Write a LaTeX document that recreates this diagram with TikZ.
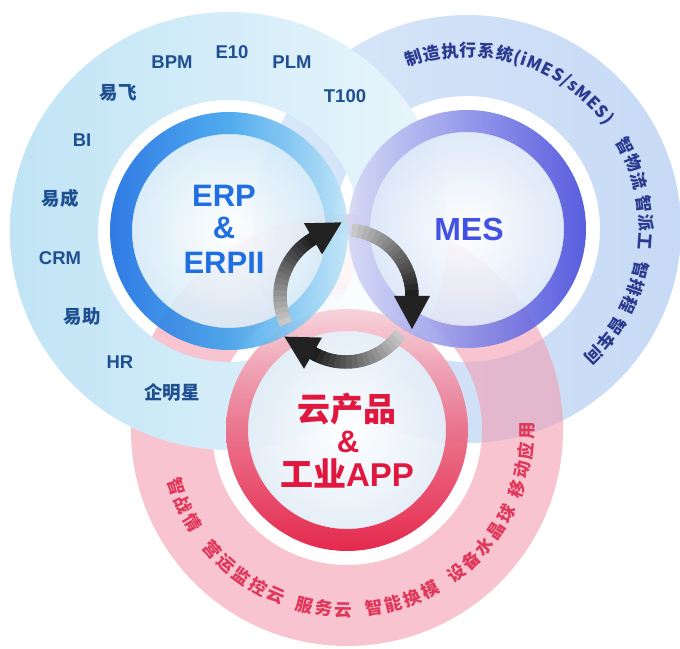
\documentclass[tikz,border=0pt]{standalone}
\usepackage{fontspec}
\setmainfont{Liberation Sans}
\newfontfamily\cjk{Noto Sans CJK SC}
\usetikzlibrary{calc,decorations.text}
\definecolor{erpannL}{HTML}{C0E4F5}
\definecolor{erpannR}{HTML}{EAF6FC}
\definecolor{mesannL}{HTML}{D9E8FA}
\definecolor{mesannR}{HTML}{C7DAF5}
\definecolor{cloudann}{HTML}{F29DB1}
\definecolor{erpringL}{HTML}{1A6DE2}
\definecolor{erpringM}{HTML}{3EA3EC}
\definecolor{erpringR}{HTML}{BDE5F7}
\definecolor{mesringL}{HTML}{D3D7F5}
\definecolor{mesringM}{HTML}{8A8FE8}
\definecolor{mesringR}{HTML}{474CDB}
\definecolor{cloudringT}{HTML}{F7D0D9}
\definecolor{cloudringM}{HTML}{EC6A84}
\definecolor{cloudringB}{HTML}{E2183F}
\definecolor{erpinO}{HTML}{D6EBF8}
\definecolor{mesinO}{HTML}{DCE7F8}
\definecolor{cloudinO}{HTML}{E3EDF7}
\definecolor{labblue}{HTML}{1E4F91}
\definecolor{erptext}{HTML}{1F6FE0}
\definecolor{mestext}{HTML}{4252E2}
\definecolor{cloudtext}{HTML}{E0173F}
\definecolor{mesarc}{HTML}{2A3A8E}
\definecolor{cloudarc}{HTML}{E0375A}
\definecolor{headcol}{HTML}{222222}
\newcommand\labfont{\bfseries\fontsize{18.5}{20}\selectfont}
\newcommand\labcnfont{\cjk\bfseries\fontsize{18.5}{20}\selectfont}
\newcommand\mesarcfont{\cjk\bfseries\fontsize{17}{17}\selectfont}
\newcommand\cloudarcfont{\cjk\bfseries\fontsize{17.5}{17.5}\selectfont}
\newcommand\cyclearrow[1]{%
  \foreach \ii in {0,...,16}{%
    \pgfmathsetmacro\sa{#1+85-5*\ii}%
    \pgfmathsetmacro\ea{\sa-5.6}%
    \pgfmathsetmacro\sh{22+66*\ii/16}%
    \draw[line width=13.5pt, draw=black!\sh] ($(A)+(\sa:66)$) arc[start angle=\sa, end angle=\ea, radius=66];
  }%
  \fill[headcol] ($(A)+(#1:84)$) -- ($(A)+(#1:48)$) -- ($(A)+(#1:66)+(#1-90:33)$) -- cycle;
}
\newcommand\mesgroup[3]{%
  \path[decorate, decoration={text along path, text={|\mesarcfont|#3}, text align={fit to path}, text color=mesarc}]
    ($(M)+(#1:172.5)$) arc[start angle=#1, end angle=#2, radius=172.5];}
\newcommand\cloudgroup[3]{%
  \path[decorate, decoration={text along path, text={|\cloudarcfont|#3}, text align={fit to path}, text color=cloudarc}]
    ($(C)+(#1:186.6)$) arc[start angle=#1, end angle=#2, radius=186.6];}
\begin{document}
\begin{tikzpicture}[x=1pt,y=1pt,
  lab/.style={font=\labfont, text=labblue, inner sep=0pt},
  labcn/.style={font=\labcnfont, text=labblue, inner sep=0pt},
  big/.style={font=\bfseries\fontsize{31}{33}\selectfont, inner sep=0pt},
  bigcn/.style={font=\cjk\bfseries\fontsize{33}{35}\selectfont, inner sep=0pt}]
\useasboundingbox (0,0) rectangle (680,648);
\fill[white] (0,0) rectangle (680,648);
\coordinate (E) at (229,417);
\coordinate (M) at (467,419);
\coordinate (C) at (347,218);
\coordinate (A) at (346,352);
% outer annuli
\shade[even odd rule, left color=mesannL, right color=mesannR] (M) circle[radius=214] (M) circle[radius=133];
\fill[even odd rule, cloudann, fill opacity=0.6] (C) circle[radius=216] (C) circle[radius=135];
\shade[even odd rule, left color=erpannL, right color=erpannR] (E) circle[radius=219] (E) circle[radius=131];
% light centre where the three white bands meet
\fill[white, opacity=0.85] (A) circle[radius=62];
% inner discs
\shade[inner color=white, outer color=erpinO, opacity=0.9] (E) circle[radius=97];
\shade[inner color=white, outer color=mesinO, opacity=0.9] (M) circle[radius=97];
\shade[inner color=white, outer color=cloudinO, opacity=0.9] (C) circle[radius=99];
% rings
\shade[even odd rule, top color=cloudringT, bottom color=cloudringB, middle color=cloudringM, opacity=0.92] (C) circle[radius=121] (C) circle[radius=99];
\shade[even odd rule, left color=erpringL, right color=erpringR, middle color=erpringM, opacity=0.9] (E) circle[radius=119] (E) circle[radius=97];
\shade[even odd rule, left color=mesringL, right color=mesringR, middle color=mesringM, opacity=0.9] (M) circle[radius=119] (M) circle[radius=97];
% ERP labels
\node[lab] (bpm) at (172,586) {BPM};
\node[lab] (e10) at (232,596) {E10};
\node[lab] (plm) at (292,586) {PLM};
\node[lab] (t100) at (345,552) {T100};
\node[labcn] (yifei) at (118,555) {易飞};
\node[lab] (bi) at (82,508) {BI};
\node[labcn] (yicheng) at (60,450) {易成};
\node[lab] (crm) at (60,390) {CRM};
\node[labcn] (yizhu) at (82,331) {易助};
\node[lab] (hr) at (120,286) {HR};
\node[labcn] (qmx) at (172,256) {企明星};
% centre titles
\node[big, text=erptext] (erp) at (224,452) {ERP};
\node[big, text=erptext] (erpamp) at (224,420) {\&};
\node[big, text=erptext] (erpii) at (224,385) {ERPII};
\node[big, text=mestext, font=\bfseries\fontsize{32}{34}\selectfont] (mes) at (469,419) {MES};
\node[bigcn, text=cloudtext] (cloud) at (347,239) {云产品};
\node[big, text=cloudtext] (cloudamp) at (348,206) {\&};
\node[bigcn, text=cloudtext] (app) at (347,175) {工业\fontspec{Liberation Sans}APP};
% MES arc text
\mesgroup{110.1}{36.7}{制造执行系统(iMES/sMES)}
\mesgroup{30.4}{12.8}{智物流}
\mesgroup{10.7}{-6.9}{智派工}
\mesgroup{-10.5}{-28.1}{智排程}
\mesgroup{-30.2}{-47.8}{智车间}
% Cloud arc text
\cloudgroup{195.6}{213.6}{智战情}
\cloudgroup{219.0}{249.4}{营运监控云}
\cloudgroup{253.6}{271.6}{服务云}
\cloudgroup{275.9}{300.1}{智能换模}
\cloudgroup{304.6}{335.0}{设备水晶球}
\cloudgroup{338.2}{362.4}{移动应用}
% cycle arrows
\cyclearrow{120}
\cyclearrow{0}
\cyclearrow{-120}
\end{tikzpicture}
\end{document}
